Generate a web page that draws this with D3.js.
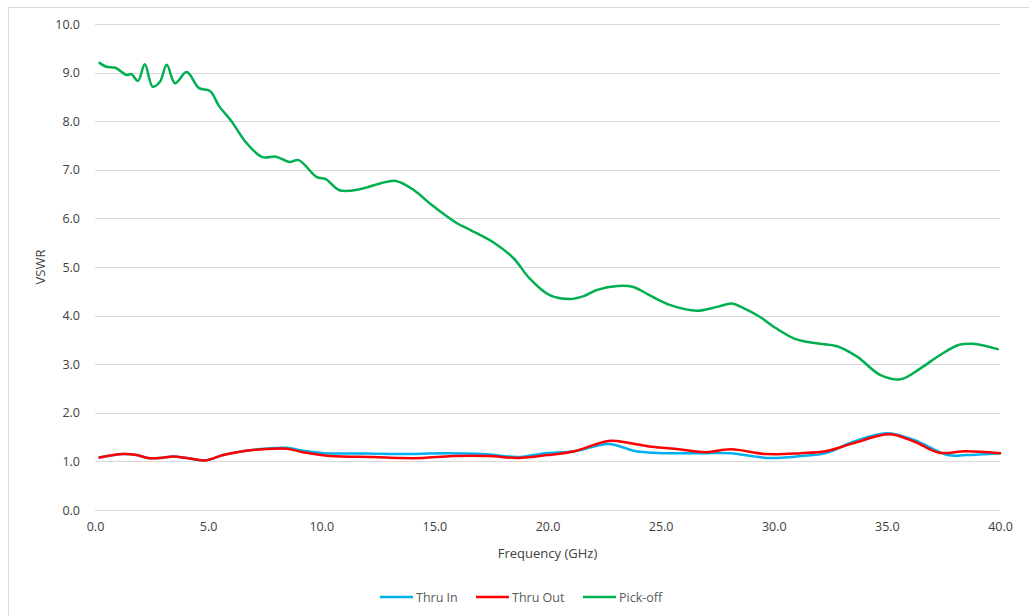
<!DOCTYPE html>
<html>
<head>
<meta charset="utf-8">
<script src="https://cdn.jsdelivr.net/npm/d3@7"></script>
<style>
  body { margin: 0; background: #fff; }
  text { font-family: "Open Sans", "Noto Sans", sans-serif; fill: #595959; }
</style>
</head>
<body>
<div id="chart"></div>
<script>
// series values
let thruInFreq = [0.2,1.24,1.84,2.34,2.87,3.46,4.06,4.86,5.66,6.4,7.43,8.47,9.2,10.1,12.0,13.5,15.5,17.2,18.7,19.9,21.2,22.7,23.9,25.1,27.0,28.1,29.8,31.2,32.3,33.5,35.0,36.2,37.7,38.5,40];
let thruInVswr = [1.08,1.15,1.13,1.07,1.07,1.10,1.07,1.02,1.13,1.20,1.26,1.28,1.22,1.17,1.16,1.15,1.17,1.15,1.09,1.17,1.21,1.36,1.21,1.17,1.17,1.17,1.07,1.11,1.17,1.40,1.58,1.44,1.13,1.13,1.17];

let thruOutFreq = [0.2,1.24,1.84,2.34,2.87,3.46,4.06,4.86,5.66,6.4,7.43,8.47,9.2,10.4,12.3,13.5,14.5,15.8,17.4,18.7,20.0,21.2,22.7,23.6,24.6,25.8,27.0,28.1,29.7,31.2,32.3,33.5,35.1,36.2,37.3,38.5,40];
let thruOutVswr = [1.08,1.15,1.13,1.07,1.07,1.10,1.07,1.02,1.13,1.20,1.25,1.26,1.19,1.11,1.09,1.07,1.07,1.11,1.11,1.07,1.13,1.21,1.42,1.38,1.30,1.25,1.19,1.25,1.15,1.17,1.21,1.37,1.56,1.41,1.18,1.21,1.17];

let pickoffFreq = [0.2,0.5,0.9,1.4,1.6,1.9,2.2,2.55,2.87,3.17,3.54,4.05,4.6,5.08,5.5,6.0,6.7,7.4,8.0,8.6,9.0,9.8,10.2,10.8,11.7,12.6,13.3,14.1,14.9,16.0,16.6,17.6,18.5,19.2,20.1,21.0,21.6,22.2,23.1,23.8,24.5,25.4,26.6,27.5,28.15,28.6,29.4,30.1,31.0,31.9,32.8,33.7,34.7,35.6,36.5,37.35,38.2,38.8,39.9];
let pickoffVswr = [9.2,9.12,9.1,8.95,8.97,8.83,9.17,8.71,8.81,9.16,8.78,9.01,8.68,8.62,8.3,8.02,7.55,7.26,7.27,7.16,7.2,6.85,6.81,6.58,6.6,6.72,6.77,6.58,6.27,5.9,5.76,5.51,5.18,4.77,4.42,4.34,4.4,4.53,4.61,4.59,4.42,4.22,4.1,4.18,4.25,4.17,3.97,3.74,3.51,3.43,3.37,3.15,2.78,2.69,2.92,3.19,3.4,3.42,3.31];

let seriesNames = ["Thru In", "Thru Out", "Pick-off"];
let seriesColors = ["#00b0f0", "#ff0000", "#00b050"];
let xTicks = [0,5,10,15,20,25,30,35,40];
let yTicks = [0,1,2,3,4,5,6,7,8,9,10];

let W = 1029, H = 616;
let plotL = 95, plotR = 1000, plotT = 24, plotB = 510;

let svg = d3.select("#chart").append("svg")
  .attr("width", W)
  .attr("height", H);

// chart frame
svg.append("rect")
  .attr("x", 8.5).attr("y", 7.5)
  .attr("width", W + 20).attr("height", H + 20)
  .attr("fill", "none")
  .attr("stroke", "#d9d9d9");

let x = d3.scaleLinear().domain([0, 40]).range([plotL, plotR]);
let y = d3.scaleLinear().domain([0, 10]).range([plotB, plotT]);

// gridlines
svg.append("g")
  .selectAll("line")
  .data(yTicks)
  .enter().append("line")
    .attr("x1", plotL).attr("x2", plotR)
    .attr("y1", d => Math.round(y(d)) + 0.5)
    .attr("y2", d => Math.round(y(d)) + 0.5)
    .attr("stroke", "#d9d9d9")
    .attr("stroke-width", 1);

// y tick labels
let yAxis = svg.append("g")
  .attr("transform", "translate(" + (plotL - 6) + ",0)")
  .call(d3.axisLeft(y).tickValues(yTicks).tickFormat(d3.format(".1f")).tickSize(0).tickPadding(9));
yAxis.select(".domain").remove();
yAxis.selectAll("text").attr("font-size", 12.5).attr("font-family", null).style("fill", "#404040");

// x tick labels
let xAxis = svg.append("g")
  .attr("transform", "translate(0," + (plotB + 9) + ")")
  .call(d3.axisBottom(x).tickValues(xTicks).tickFormat(d3.format(".1f")).tickSize(0).tickPadding(3));
xAxis.select(".domain").remove();
xAxis.selectAll("text").attr("font-size", 12.5).attr("font-family", null).style("fill", "#404040");

// axis titles
svg.append("text")
  .attr("x", (plotL + plotR) / 2)
  .attr("y", 558)
  .attr("text-anchor", "middle")
  .attr("font-size", 13)
  .style("fill", "#404040")
  .text("Frequency (GHz)");

svg.append("text")
  .attr("transform", "translate(45," + ((plotT + plotB) / 2) + ") rotate(-90)")
  .attr("text-anchor", "middle")
  .attr("font-size", 13)
  .style("fill", "#404040")
  .text("VSWR");

// lines
let series = [
  { freq: thruInFreq, vswr: thruInVswr },
  { freq: thruOutFreq, vswr: thruOutVswr },
  { freq: pickoffFreq, vswr: pickoffVswr }
];

let line = d3.line()
  .x(d => x(d[0]))
  .y(d => y(d[1]))
  .curve(d3.curveCatmullRom.alpha(0.5));

svg.append("g")
  .selectAll("path")
  .data(series)
  .enter().append("path")
    .attr("d", d => line(d.freq.map((f, i) => [f, d.vswr[i]])))
    .attr("fill", "none")
    .attr("stroke", (d, i) => seriesColors[i])
    .attr("stroke-width", 2.5)
    .attr("stroke-linejoin", "round")
    .attr("stroke-linecap", "round");

// legend
let legendX = [380, 476, 583];
let lg = svg.append("g")
  .selectAll("g")
  .data(seriesNames)
  .enter().append("g")
    .attr("transform", (d, i) => "translate(" + legendX[i] + ",597)");

lg.append("line")
  .attr("x1", 0).attr("x2", 33)
  .attr("y1", 0).attr("y2", 0)
  .attr("stroke", (d, i) => seriesColors[i])
  .attr("stroke-width", 2.5);

lg.append("text")
  .attr("x", 36)
  .attr("y", 4.5)
  .attr("font-size", 12.5)
  .text(d => d);
</script>
</body>
</html>
